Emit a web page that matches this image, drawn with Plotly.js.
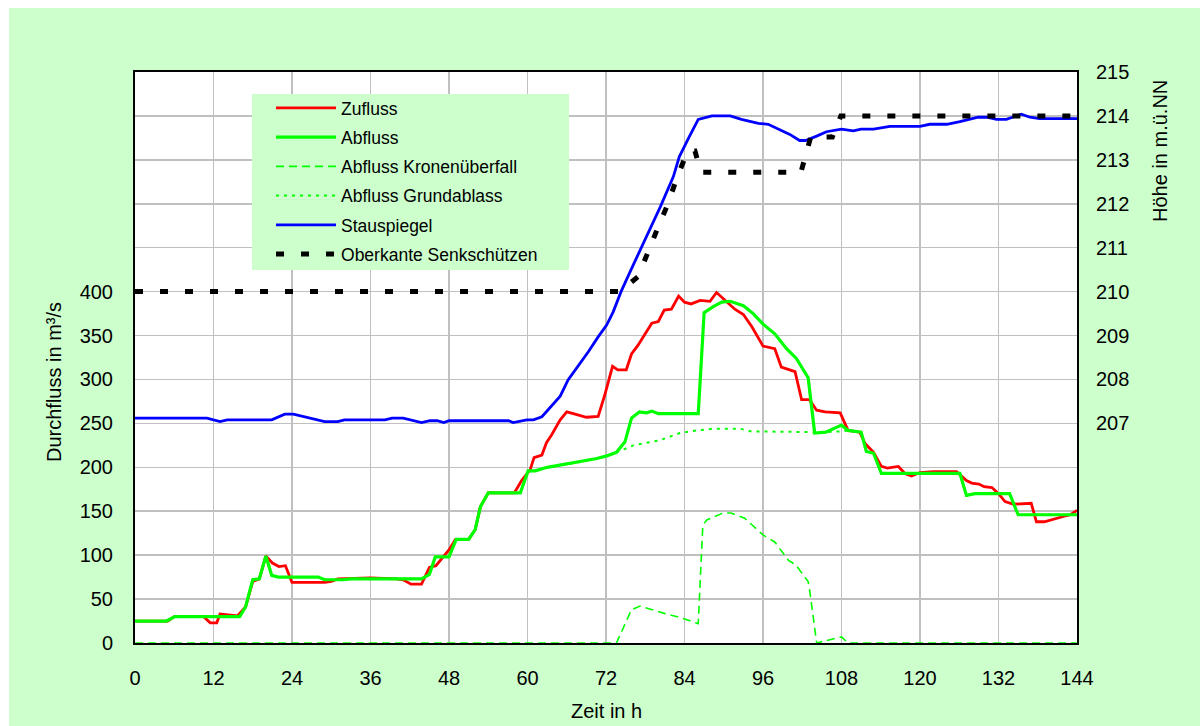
<!DOCTYPE html>
<html>
<head>
<meta charset="utf-8">
<script src="https://cdn.plot.ly/plotly-3.0.1.min.js"></script>
<style>
  html, body { margin: 0; padding: 0; background: #ffffff; }
  #chart { position: absolute; left: 9px; top: 8px; width: 1191px; height: 718px; }
</style>
</head>
<body>
<div id="chart"></div>
<script>
// ---- Data ----
const zuflussT = [0,5,6,10.5,11.5,12.5,13,14,15.7,16.9,18,19,20,21,22,23,24,29,30,31,36,40,41,42.2,43.8,45,46,47.2,48,49,51,52,52.8,54,58,59.1,60.4,61,62.2,62.9,63.7,65,66,67,69,70.8,71.8,73,73.8,75.1,75.9,76.9,78.1,79,80,80.9,82,83.1,84,85,86.4,87.9,88.9,90.2,91.7,93,94.3,96,97.8,98.8,100.9,101.9,103.1,104.2,105.5,107.8,109,110.8,111.6,112.9,114.1,115,116.7,117.7,118.7,120,122,125.6,126.4,127.1,127.9,129,129.8,131,132,133,134.2,137,137.8,139,141.9,143,144];
const zuflussQ = [25,25,30,30,23,23,33,32,31,41,70,73,99,91,87,88,69,69,70,73,74,73,72,67,67,86,88,99,106,118,118,129,155,171,171,185,197,211,214,228,237,254,263,261,257,258,282,315,311,311,329,339,354,364,366,379,380,395,388,386,390,389,399,390,380,374,360,338,335,314,309,277,277,265,263,262,242,240,227,217,201,199,201,193,190,194,195,195,190,185,182,181,178,177,170,161,158,159,138,138,144,146,151];

const abflussT = [0,4.8,6.1,16,16.9,18,19,20,20.9,21.9,28,29,31.8,33,43.8,45,45.9,48,49.1,51,52,52.8,54,58.9,60.1,61.2,63,65.5,68,70.6,72.1,73.6,74.9,75.9,77.1,78.2,79,80,86.1,87,88.4,89.7,91,93,94.5,96,97.8,99.6,101.1,102.9,103.9,105.6,108,109,111,111.8,112.9,114.1,126.1,127.1,128.4,133.7,135,144];
const abflussQ = [25,25,30,30,41,72,73,99,77,75,75,72,72,73,73,78,98,98,118,118,129,155,171,171,196,196,200,203,206,210,213,217,229,256,263,262,264,261,261,376,383,388,389,384,375,363,352,335,324,302,239,240,248,242,240,218,216,193,193,168,170,170,146,146];

const kroneT = [0,73.6,75.9,77.2,80.8,83.8,86.1,86.8,87.4,89.9,91.1,93.2,96,97.8,99.9,101,102.9,103.1,104.2,106,108,109,144];
const kroneQ = [0,0,38,42,34,28,22,134,140,148,148,142,123,115,94,89,70,62,0,3,7,0,0];

const grundT = [0,4.8,6.1,16,16.9,18,19,20,20.9,21.9,28,29,31.8,33,43.8,45,45.9,48,49.1,51,52,52.8,54,58.9,60.1,61.2,63,65.5,68,70.6,72.1,73.6,76.2,80.3,83.3,85.9,88.4,92.5,94,103.7,105.6,108,109,111,111.8,112.9,114.1,126.1,127.1,128.4,133.7,135,144];
const grundQ = [25,25,30,30,41,72,73,99,77,75,75,72,72,73,73,78,98,98,118,118,129,155,171,171,196,196,200,203,206,210,213,217,225,231,239,242,244,244,241,240,240,241,242,240,218,216,193,193,168,170,170,146,146];

const stauT = [0,11,13,14.1,20.9,22.9,24.2,26.7,29,31,32,38.2,39.3,41,43.8,45.1,46.2,47.2,48,57.1,57.8,59.9,60.9,62.2,63.7,65,66.2,67.5,69.3,70.8,72.1,73.1,74.3,75.8,77.5,78.7,80.3,82.3,83.2,84.6,86.1,88.2,91,92.7,93.6,95.3,96.8,98.3,100.1,101.6,102.5,104.2,105.7,108,109.8,111,112.9,115.4,120,121.5,124.1,126.1,128.9,130.2,131.7,133.2,135.5,136.8,138.3,144];
const stauH = [207.12,207.12,207.04,207.08,207.08,207.21,207.21,207.12,207.04,207.04,207.08,207.08,207.12,207.12,207.02,207.06,207.06,207.02,207.06,207.06,207.02,207.08,207.08,207.15,207.40,207.62,207.99,208.25,208.63,208.97,209.24,209.54,210.0,210.49,211.02,211.40,211.93,212.62,213.07,213.49,213.92,214.0,214.0,213.92,213.89,213.83,213.81,213.70,213.58,213.44,213.44,213.54,213.64,213.70,213.66,213.70,213.70,213.76,213.76,213.81,213.81,213.87,213.97,213.97,213.92,213.92,214.04,213.97,213.94,213.94];

const schuetzT = [0,74.1,76.9,78.5,80,81.5,82.9,84.5,85.6,86.5,101.8,103.3,106.6,107.9,144];
const schuetzH = [210,210,210.34,210.95,211.48,212.01,212.62,213.2,213.2,212.72,212.72,213.52,213.52,214,214];

const xTicks = [0,12,24,36,48,60,72,84,96,108,120,132,144];
const yTicksLeft = [0,50,100,150,200,250,300,350,400];
const yTicksRight = [207,208,209,210,211,212,213,214,215];

const names = ['Zufluss','Abfluss','Abfluss Kronenüberfall','Abfluss Grundablass','Stauspiegel','Oberkante Senkschützen'];

// ---- Traces ----
const FONT = 'Liberation Sans, Arial, sans-serif';
const traces = [
  {x: zuflussT, y: zuflussQ, name: names[0], legendgroup:'a', mode:'lines', line:{color:'#FF0000', width:2.8}},
  {x: abflussT, y: abflussQ, name: names[1], legendgroup:'b', mode:'lines', line:{color:'#00FF00', width:3.2}},
  {x: kroneT, y: kroneQ, name: names[2], legendgroup:'c', mode:'lines', line:{color:'#00FF00', width:1.6, dash:'8px,5px'}},
  {x: grundT, y: grundQ, name: names[3], legendgroup:'d', mode:'lines', line:{color:'#00FF00', width:2, dash:'3px,5px'}},
  {x: stauT, y: stauH, name: names[4], legendgroup:'e', mode:'lines', yaxis:'y2', line:{color:'#0000FF', width:2.8}},
  {x: schuetzT, y: schuetzH, name: names[5], legendgroup:'f', mode:'lines', yaxis:'y2', line:{color:'#000000', width:5, dash:'8px,17px'}}
];

const layout = {
  width: 1191, height: 718,
  margin: {l: 126, r: 123, t: 64, b: 83, pad: 0},
  paper_bgcolor: '#CCFFCC',
  plot_bgcolor: '#FFFFFF',
  font: {family: FONT, color: '#000000', size: 20},
  showlegend: true,
  legend: {
    x: 0.1444, y: 0.9685, xanchor: 'left', yanchor: 'top',
    bgcolor: 'rgba(0,0,0,0)', borderwidth: 0,
    font: {family: FONT, size: 17.5, color: '#000000'},
    itemwidth: 60, tracegroupgap: 3.5
  },
  xaxis: {
    range: [0, 144], tickvals: xTicks, ticktext: xTicks.map(String),
    showgrid: true, gridcolor: '#C0C0C0', gridwidth: 1.5,
    showline: true, linecolor: '#000000', linewidth: 2, mirror: true,
    zeroline: false, ticks: '', ticklabelstandoff: 16,
    tickfont: {size: 20}
  },
  yaxis: {
    range: [0, 650], tickvals: yTicksLeft, ticktext: yTicksLeft.map(String),
    showgrid: true, gridcolor: '#C0C0C0', gridwidth: 1.5,
    showline: true, linecolor: '#000000', linewidth: 2, mirror: true,
    zeroline: false, ticks: '', ticklabelstandoff: 16,
    tickfont: {size: 20}
  },
  yaxis2: {
    overlaying: 'y', side: 'right', range: [202, 215],
    tickvals: yTicksRight, ticktext: yTicksRight.map(String),
    showgrid: true, gridcolor: '#C0C0C0', gridwidth: 1.5,
    showline: true, linecolor: '#000000', linewidth: 2,
    zeroline: false, ticks: '', ticklabelstandoff: 13,
    tickfont: {size: 20}
  },
  shapes: [
    {type:'rect', xref:'paper', yref:'paper', x0:0.1242, x1:0.4607, y0:0.6532, y1:0.9615,
     fillcolor:'#CCFFCC', line:{width:0}, layer:'above'}
  ],
  annotations: [
    {text:'Durchfluss in m³/s', xref:'paper', yref:'paper', x:-0.086, y:0.4571, showarrow:false,
     textangle:-90, xanchor:'center', yanchor:'middle', font:{size:20}},
    {text:'Zeit in h', xref:'paper', yref:'paper', x:0.5, y:-0.1191, showarrow:false,
     xanchor:'center', yanchor:'middle', font:{size:20}},
    {text:'Höhe in m.ü.NN', xref:'paper', yref:'paper', x:1.0881, y:0.8617, showarrow:false,
     textangle:-90, xanchor:'center', yanchor:'middle', font:{size:20}}
  ]
};

Plotly.newPlot('chart', traces, layout, {displayModeBar: false, staticPlot: true});
</script>
</body>
</html>
